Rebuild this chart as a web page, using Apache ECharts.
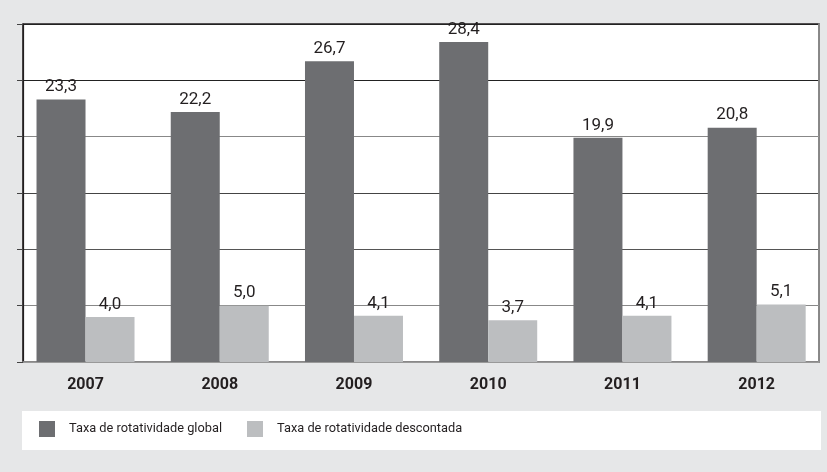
<!DOCTYPE html>
<html>
<head>
<meta charset="utf-8">
<script src="https://cdn.jsdelivr.net/npm/echarts@6/dist/echarts.min.js"></script>
<style>
html,body{margin:0;padding:0;background:#e6e7e8;}
#c{width:827px;height:472px;}
</style>
</head>
<body>
<div id="c"></div>
<script>
const categories = ['2007','2008','2009','2010','2011','2012'];
const globalRate = [23.3, 22.2, 26.7, 28.4, 19.9, 20.8];
const discountedRate = [4.0, 5.0, 4.1, 3.7, 4.1, 5.1];
const seriesNames = ['Taxa de rotatividade global', 'Taxa de rotatividade descontada'];
const yTicks = [0, 5, 10, 15, 20, 25, 30];

const fmt = p => p.value.toFixed(1).replace('.', ',');
const chart = echarts.init(document.getElementById('c'));
chart.setOption({
  backgroundColor: '#e6e7e8',
  animation: false,
  graphic: [{
    type: 'rect', left: 22, top: 411, z: -10,
    shape: {width: 799, height: 39},
    style: {fill: '#ffffff'}
  }],
  legend: {
    left: 39, top: 421, padding: 0,
    itemWidth: 16, itemHeight: 16, itemGap: 25,
    icon: 'rect',
    textStyle: {fontFamily: 'Roboto', fontSize: 12.8, color: '#231f20', padding: [0,0,0,9]},
    data: seriesNames
  },
  grid: [
    {left: 23, top: 24, width: 796, height: 338, backgroundColor: '#ffffff', show: true,
     borderColor: '#231f20', borderWidth: 1.6, outerBoundsMode: 'none'},
    {left: 18.4, top: 24, width: 805.4, height: 338, outerBoundsMode: 'none'}
  ],
  xAxis: [
    {gridIndex: 0, type: 'value', min: 0, max: 1,
     axisLine: {show: true, onZero: false, lineStyle: {color: '#999', width: 1.6}},
     axisTick: {show: false}, axisLabel: {show: false}, splitLine: {show: false}},
    {gridIndex: 1, type: 'category', data: categories,
     axisLine: {show: false}, axisTick: {show: false},
     axisLabel: {fontFamily: 'Roboto', fontWeight: 'bold', fontSize: 16, color: '#231f20', margin: 15}}
  ],
  yAxis: [
    {gridIndex: 0, type: 'value', min: yTicks[0], max: yTicks[yTicks.length-1], interval: 5,
     axisLine: {show: true, lineStyle: {color: '#231f20', width: 1.2}},
     axisTick: {show: true, length: 6, lineStyle: {color: '#444'}},
     axisLabel: {show: false},
     splitLine: {show: true, lineStyle: {color: ['#999','#888','#555','#444','#888','#222','#222'], width: 1.2}}},
    {gridIndex: 0, type: 'value', position: 'right', min: 0, max: 30,
     axisLine: {show: true, lineStyle: {color: '#999', width: 1.6}},
     axisTick: {show: false}, axisLabel: {show: false}, splitLine: {show: false}},
    {gridIndex: 1, type: 'value', min: 0, max: 30, show: false}
  ],
  series: [
    {name: seriesNames[0], type: 'bar', xAxisIndex: 1, yAxisIndex: 2, data: globalRate,
     barWidth: 49, barGap: '0%', itemStyle: {color: '#6d6e71'},
     label: {show: true, position: 'top', distance: 4, formatter: fmt,
       fontFamily: 'Roboto', fontSize: 17, color: '#231f20'}},
    {name: seriesNames[1], type: 'bar', xAxisIndex: 1, yAxisIndex: 2, data: discountedRate,
     barWidth: 49, barGap: '0%', itemStyle: {color: '#bcbec0'},
     label: {show: true, position: 'top', distance: 4, formatter: fmt,
       fontFamily: 'Roboto', fontSize: 17, color: '#231f20'}}
  ]
});
</script>
</body>
</html>
